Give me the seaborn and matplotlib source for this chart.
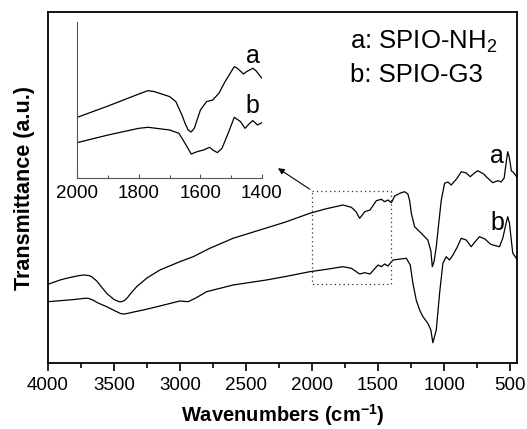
import numpy as np
import pandas as pd
import seaborn as sns
import matplotlib.pyplot as plt
from matplotlib.ticker import MultipleLocator

# main spectra (wavenumber, transmittance a.u.)
wn_a = [4000, 3908, 3850, 3780, 3732, 3690, 3669, 3630, 3600, 3555, 3500, 3460, 3442, 3420, 3400,
        3370, 3328, 3250, 3152, 3001, 2900, 2774, 2598, 2371, 2200, 2017, 1900, 1766, 1702, 1665,
        1645, 1639, 1625, 1601, 1561, 1513, 1475, 1450, 1425, 1399, 1374, 1330, 1299, 1274, 1260,
        1248, 1223, 1190, 1160, 1123, 1100, 1089, 1075, 1059, 1040, 1021, 996, 971, 946, 900, 870,
        832, 802, 770, 745, 700, 681, 631, 593, 568, 545, 530, 518, 505, 490, 480, 460, 450]
t_a = [78.7, 83, 85, 87, 88, 87.5, 86.3, 82, 77, 69.7, 63.5, 61.3, 61.3, 62.5, 65,
       70, 76.3, 85, 93, 101.3, 106.3, 114.7, 124.7, 134, 141, 149.7, 154, 158, 155.7, 151,
       146, 144.7, 147, 151.3, 153, 162.3, 163.7, 161.3, 163, 160.3, 167, 170, 171.3, 169, 162,
       149.7, 136.3, 132, 128, 123, 112, 96.3, 102, 116.3, 140, 163, 179.7, 181, 178, 185, 191.3,
       190, 186.3, 190, 192.3, 189, 186.3, 180.3, 182.3, 181, 185, 200, 211.3, 205, 192, 191.3, 188, 186]

wn_b = [4000, 3908, 3800, 3720, 3696, 3660, 3620, 3555, 3490, 3450, 3430, 3400, 3350, 3278, 3152,
        3001, 2938, 2880, 2798, 2598, 2346, 2200, 2017, 1900, 1766, 1702, 1639, 1601, 1561, 1500,
        1475, 1450, 1425, 1387, 1330, 1286, 1256, 1236, 1211, 1185, 1160, 1123, 1100, 1085, 1059,
        1034, 1009, 984, 959, 933, 900, 870, 832, 795, 760, 732, 690, 650, 631, 580, 555, 530,
        518, 505, 490, 480, 460, 450]
t_b = [61.3, 62.3, 63.5, 64.7, 64.7, 63, 60, 56.3, 52, 49.5, 49, 49.5, 51, 53, 57,
       62, 61.3, 65, 71.3, 78, 83, 86.5, 91.3, 93.5, 96.3, 94.7, 89, 90.3, 89, 98,
       96.3, 99, 97, 103, 104, 104.7, 98, 79.7, 63, 53, 46.3, 39.7, 33, 20.3, 33,
       69.7, 99.7, 106.3, 103, 108, 116, 124.7, 123, 116.3, 122, 126.3, 124, 119, 118, 116.3, 125, 140,
       146.3, 140, 122, 110, 106, 104]

# inset spectra 2000-1400 cm-1
wn_ia = [2000, 1900, 1800, 1770, 1750, 1700, 1680, 1660, 1650, 1640, 1630, 1620, 1600, 1580, 1560,
         1540, 1520, 1490, 1480, 1460, 1450, 1430, 1420, 1400]
t_ia = [61, 72.3, 84.3, 87.7, 86.7, 81.7, 76.7, 63.3, 55, 48.3, 46.3, 50, 68.3, 76.7, 78.3,
        85, 96.7, 111.7, 110, 104.3, 106.7, 110, 107.7, 100]
wn_ib = [2000, 1900, 1800, 1770, 1700, 1670, 1650, 1630, 1610, 1590, 1570, 1560, 1545, 1530,
         1510, 1490, 1470, 1455, 1440, 1430, 1415, 1400]
t_ib = [35.7, 43.3, 50, 51, 48.3, 45, 35, 24.3, 26.7, 28.3, 31, 28.3, 25.7, 30,
        45, 61, 56.7, 50, 55, 57.7, 53.3, 55.7]

legend_lines = ['a: SPIO-NH$_2$', 'b: SPIO-G3']

sns.set_style('ticks')
plt.rcParams['font.family'] = ['Liberation Sans', 'DejaVu Sans']
plt.rcParams['mathtext.fontset'] = 'custom'
plt.rcParams['mathtext.rm'] = 'Liberation Sans'
plt.rcParams['mathtext.bf'] = 'Liberation Sans:bold'
plt.rcParams['mathtext.default'] = 'regular'
plt.rcParams['text.color'] = 'black'
plt.rcParams['axes.labelcolor'] = 'black'
plt.rcParams['xtick.color'] = 'black'

fig = plt.figure(figsize=(5.27, 4.29), dpi=100)
ax = fig.add_axes([47.9 / 527, 66 / 429, 468.8 / 527, 351 / 429])

df_a = pd.DataFrame({'wn': wn_a, 't': t_a})
df_b = pd.DataFrame({'wn': wn_b, 't': t_b})
sns.lineplot(data=df_a, x='wn', y='t', ax=ax, color='black', lw=0.9)
sns.lineplot(data=df_b, x='wn', y='t', ax=ax, color='black', lw=0.9)

ax.set_xlim(4000, 450)
ax.set_ylim(0, 351)
ax.xaxis.set_major_locator(MultipleLocator(500))
ax.xaxis.set_minor_locator(MultipleLocator(250))
ax.set_yticks([])
ax.tick_params(axis='x', which='major', direction='out', length=6, width=1.2, labelsize=13.5, pad=4)
ax.tick_params(axis='x', which='minor', direction='out', length=3.5, width=1.2)
for s in ax.spines.values():
    s.set_linewidth(1.3)
    s.set_color('black')
ax.set_xlabel(r'Wavenumbers (cm$^{\mathbf{-1}}$)', fontsize=14.5, fontweight='bold', labelpad=6)
ax.set_ylabel('Transmittance (a.u.)', fontsize=15.5, fontweight='bold', labelpad=9)

ax.text(599, 199.7, 'a', fontsize=18, ha='center', va='baseline')
ax.text(599, 133, 'b', fontsize=18, ha='center', va='baseline')

ax.text(0.644, 0.895, legend_lines[0], transform=ax.transAxes, fontsize=18.5, va='baseline')
ax.text(0.644, 0.80, legend_lines[1], transform=ax.transAxes, fontsize=18.5, va='baseline')

# dotted zoom box and arrow
ax.plot([2000, 1400, 1400, 2000, 2000], [172.3, 172.3, 79, 79, 172.3], ls=(0, (1, 2.5)),
        color='#333333', lw=0.9)
ax.annotate('', xy=(2275, 196.3), xytext=(2000, 172.3),
            arrowprops=dict(arrowstyle='-|>', color='black', lw=0.8, mutation_scale=9))

# inset
ins = fig.add_axes([77.3 / 527, (429 - 178.3) / 429, 184.7 / 527, 156 / 429])
ins.patch.set_alpha(0)
sns.lineplot(x=wn_ia, y=t_ia, ax=ins, color='black', lw=0.9)
sns.lineplot(x=wn_ib, y=t_ib, ax=ins, color='black', lw=0.9)
ins.set_xlim(2000, 1400)
ins.set_ylim(0, 156)
ins.xaxis.set_major_locator(MultipleLocator(200))
ins.xaxis.set_minor_locator(MultipleLocator(100))
ins.set_yticks([])
ins.tick_params(axis='x', which='major', direction='in', length=3, width=0.8, color='#555555',
                labelsize=13.5, pad=5)
ins.tick_params(axis='x', which='minor', direction='in', length=2, width=0.8, color='#555555')
ins.spines['top'].set_visible(False)
ins.spines['right'].set_visible(False)
for k in ['left', 'bottom']:
    ins.spines[k].set_color('#555555')
    ins.spines[k].set_linewidth(0.8)
ins.set_xlabel('')
ins.set_ylabel('')
ins.text(1431, 115.3, 'a', fontsize=18, ha='center', va='baseline')
ins.text(1431, 65.3, 'b', fontsize=18, ha='center', va='baseline')

fig.savefig('out.png', dpi=100)
